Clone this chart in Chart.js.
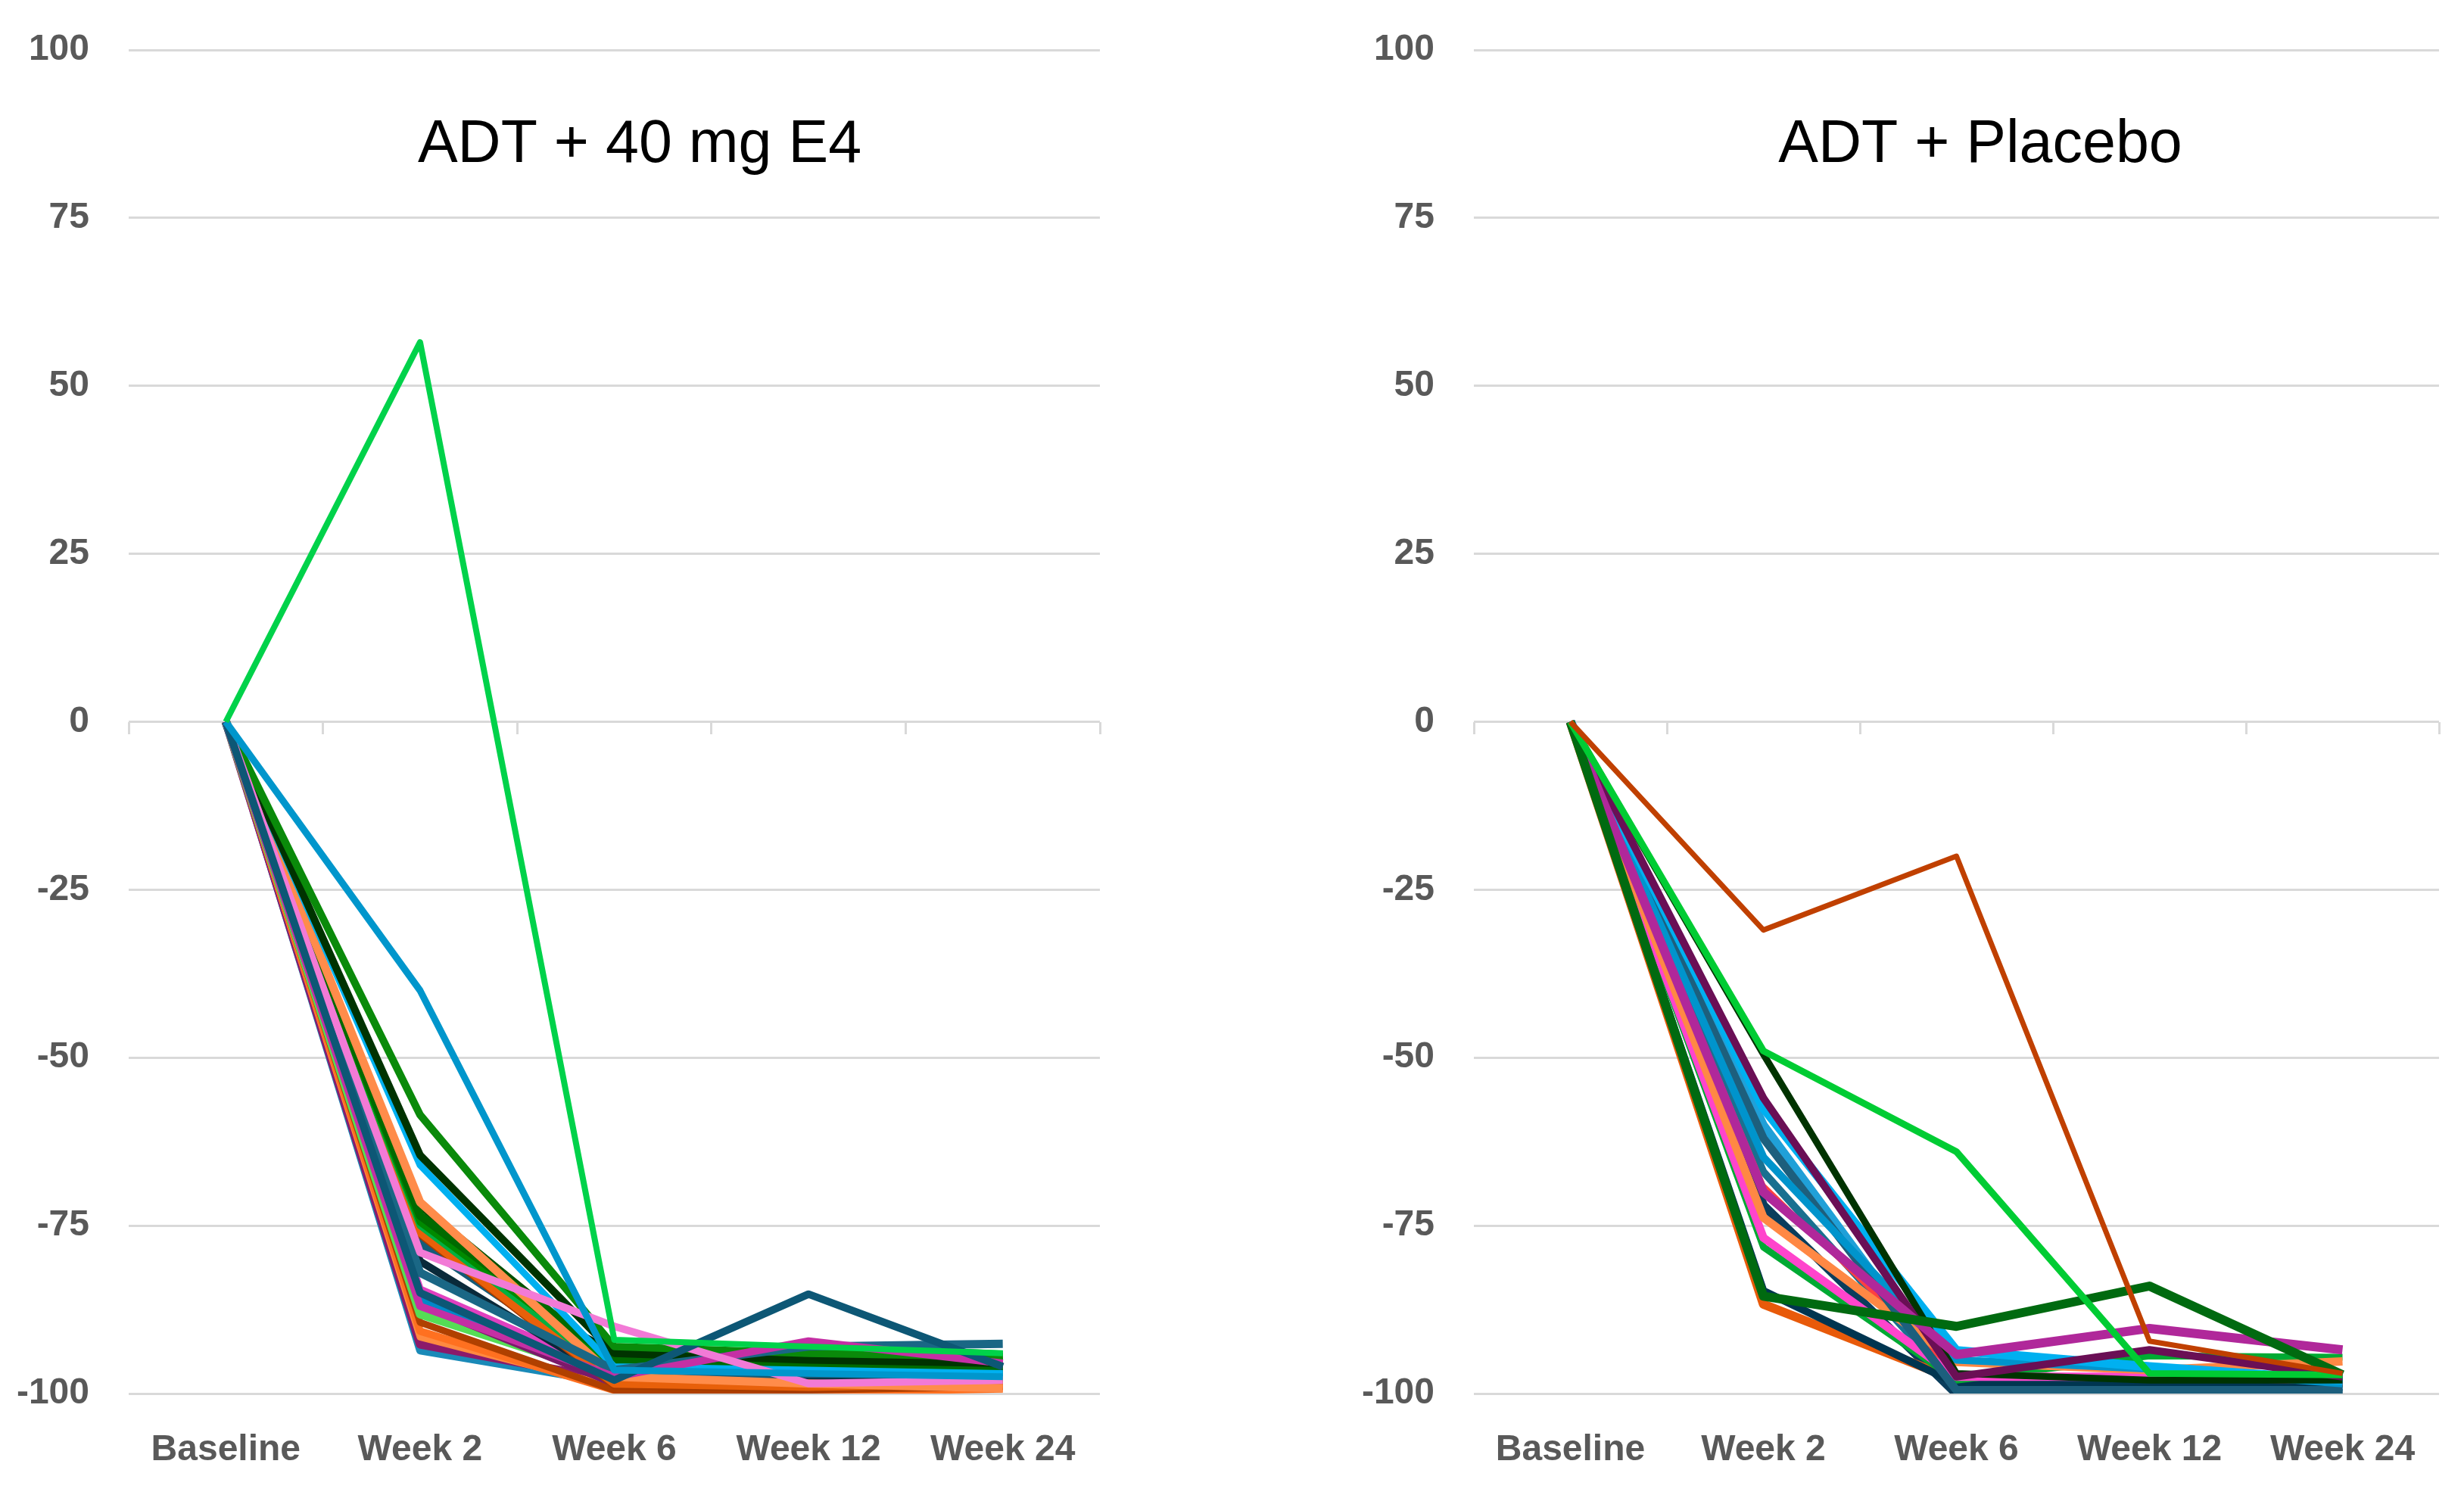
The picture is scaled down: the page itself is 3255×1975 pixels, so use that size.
<!DOCTYPE html>
<html>
<head>
<meta charset="utf-8">
<script src="https://cdn.jsdelivr.net/npm/chart.js@4.4.1/dist/chart.umd.min.js"></script>
<style>
  html, body { margin: 0; padding: 0; background: #fff; }
  #wrap { position: relative; width: 3255px; height: 1975px; }
  .panel { position: absolute; top: 0; height: 1975px; }
  #left { left: 0; width: 1628px; }
  #right { left: 1628px; width: 1627px; }
</style>
</head>
<body>
<div id="wrap">
  <div class="panel" id="left"><canvas id="chart-e4"></canvas></div>
  <div class="panel" id="right"><canvas id="chart-placebo"></canvas></div>
</div>
<script>
// x categories
const timepoints = ['Baseline', 'Week 2', 'Week 6', 'Week 12', 'Week 24'];

// ADT + 40 mg E4, one row per patient (% change from baseline)
const e4Series = [
  [0, 56.5, -92, -93, -94],
  [0, -40, -96.5, -97, -97.5],
  [0, -85, -98, -85.2, -96],
  [0, -79, -90, -98.5, -98],
  [0, -87, -97.5, -92.2, -95.5],
  [0, -82, -96.5, -93, -92.6],
  [0, -58.5, -93, -94, -94.5],
  [0, -64.5, -94, -95, -95.5],
  [0, -66, -96, -96.5, -97],
  [0, -71.5, -97.5, -98.5, -99.2],
  [0, -73.5, -95, -95.5, -96],
  [0, -74.5, -96, -96, -94.4],
  [0, -75, -97, -92.7, -94.1],
  [0, -76, -98.5, -99, -98.5],
  [0, -76.5, -99, -99.5, -98.6],
  [0, -77.5, -97, -97, -97],
  [0, -78, -94, -94.5, -95.2],
  [0, -80.3, -98, -98, -97.8],
  [0, -72, -95.5, -96.5, -96.3],
  [0, -84.5, -97, -98, -98],
  [0, -86, -97.5, -97.5, -97.5],
  [0, -86.7, -98.5, -98, -98],
  [0, -88.2, -97.5, -98, -97],
  [0, -89.4, -99.5, -99.5, -99],
  [0, -90.7, -99.5, -99.8, -99.3],
  [0, -91.6, -99, -99.5, -99],
  [0, -92.7, -98, -98, -98.2],
  [0, -93.6, -98.5, -98.5, -98]
];
const e4Colors = ['#00d24a', '#0096cc', '#0d5775', '#f27ad6', '#c42fa4', '#1a6785', '#0a8a0a',
  '#003300', '#00b0f0', '#ff8c4a', '#006a00', '#008a00', '#00b040', '#e8600a', '#a83c00',
  '#155c78', '#001a10', '#0a2a3a', '#005000', '#e040c0', '#0088c8', '#7a1a6a', '#55dd55',
  '#b04000', '#ff7020', '#ff8a40', '#8b1a6b', '#1a8ab8'];
const e4Widths = [8, 9, 10, 10, 10, 11, 10, 10, 9, 11, 11, 9, 9, 11, 7, 12, 10, 10, 10, 10, 9, 10, 11, 9, 10, 9, 11, 10];

// ADT + Placebo
const placeboSeries = [
  [0, -31, -20, -92.2, -97],
  [0, -49, -64, -97, -97.2],
  [0, -85.5, -90, -84, -97.2],
  [0, -70, -94.2, -90.3, -93.5],
  [0, -56, -97.5, -93.5, -97.5],
  [0, -49.5, -97, -98, -98],
  [0, -57.5, -93.6, -96, -98],
  [0, -64.8, -95, -96.3, -98.5],
  [0, -62, -99.5, -99.5, -99.5],
  [0, -73.8, -95.3, -96.5, -95.2],
  [0, -76.8, -97.5, -97.5, -98],
  [0, -78.2, -98, -94.4, -94.6],
  [0, -84.7, -98.5, -98.5, -98.5],
  [0, -86.7, -98, -98, -98.4],
  [0, -69, -97, -97.5, -98],
  [0, -72, -100, -100, -100],
  [0, -60, -99, -99, -99],
  [0, -67, -99, -99, -99]
];
const placeboColors = ['#c04000', '#00cc33', '#006a10', '#b0289a', '#6a0f55', '#003300',
  '#00b0f0', '#0094cc', '#1d5f7d', '#ff8844', '#ff44cc', '#00aa33', '#003550', '#e85a0a',
  '#ff4040', '#0a3d5c', '#20a0d8', '#1a7090'];
const placeboWidths = [7, 9, 12, 12, 10, 9, 12, 10, 11, 11, 11, 9, 10, 12, 6, 12, 11, 10];

const fontFamily = '"Liberation Sans", Arial, sans-serif';

const panelTitle = {
    id: 'panelTitle',
    afterDraw(chart, args, opts) {
        const ctx = chart.ctx;
        ctx.save();
        ctx.font = '79px ' + fontFamily;
        ctx.fillStyle = '#000000';
        ctx.textAlign = 'center';
        ctx.textBaseline = 'alphabetic';
        ctx.fillText(opts.text, opts.x, opts.y);
        ctx.restore();
    }
};

function buildPanel(canvasId, title, series, colors, widths, axisWidth, rightPad, titleX) {
    return new Chart(document.getElementById(canvasId), {
        type: 'line',
        data: {
            labels: timepoints,
            datasets: series.map((vals, i) => ({
                data: vals,
                borderColor: colors[i],
                backgroundColor: colors[i],
                borderWidth: widths[i],
                borderJoinStyle: 'round',
                pointRadius: 0,
                tension: 0,
                fill: false
            }))
        },
        options: {
            responsive: true,
            maintainAspectRatio: false,
            devicePixelRatio: 1,
            animation: false,
            layout: { padding: { top: 66, right: rightPad, bottom: 0, left: 0 } },
            plugins: {
                legend: { display: false },
                tooltip: { enabled: false },
                panelTitle: { text: title, x: titleX, y: 214 }
            },
            scales: {
                x: {
                    type: 'category',
                    position: 'bottom',
                    offset: true,
                    grid: { display: false },
                    border: { display: false },
                    ticks: {
                        color: '#595959',
                        font: { family: fontFamily, size: 48, weight: 'bold' },
                        padding: 38,
                        maxRotation: 0,
                        autoSkip: false
                    },
                    afterFit: s => { s.height = 134; }
                },
                xZero: {
                    axis: 'x',
                    type: 'category',
                    position: { y: 0 },
                    offset: true,
                    grid: {
                        offset: true,
                        drawOnChartArea: false,
                        drawTicks: true,
                        tickLength: 16,
                        color: '#d9d9d9',
                        lineWidth: 3
                    },
                    border: { display: false },
                    ticks: { display: false }
                },
                y: {
                    min: -100,
                    max: 100,
                    ticks: {
                        stepSize: 25,
                        color: '#595959',
                        font: { family: fontFamily, size: 48, weight: 'bold' },
                        padding: 52
                    },
                    grid: { color: '#d9d9d9', lineWidth: 3, drawTicks: false },
                    border: { display: false },
                    afterFit: s => {
                        s.width = axisWidth;
                        s.paddingTop = 30;
                        s.paddingBottom = 30;
                    }
                }
            }
        },
        plugins: [panelTitle]
    });
}

buildPanel('chart-e4', 'ADT + 40 mg E4', e4Series, e4Colors, e4Widths, 170, 175, 845);
buildPanel('chart-placebo', 'ADT + Placebo', placeboSeries, placeboColors, placeboWidths, 319, 33, 988);
</script>
</body>
</html>
